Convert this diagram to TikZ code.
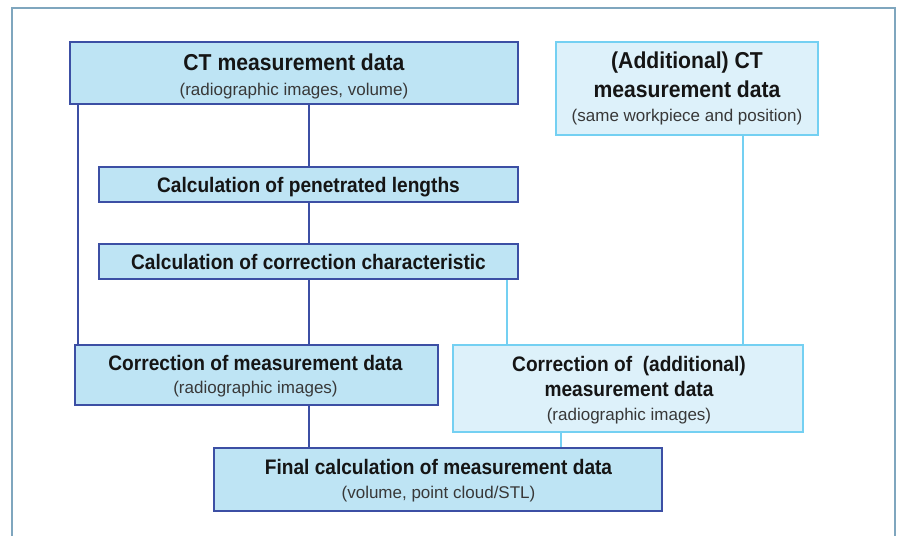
\documentclass[tikz,border=0pt]{standalone}
\usepackage{fontspec}
\usepackage{graphicx}
\setmainfont{Liberation Sans}
\usetikzlibrary{calc}
\definecolor{darkfill}{HTML}{BEE4F4}
\definecolor{darkedge}{HTML}{3C4FA4}
\definecolor{lightfill}{HTML}{DDF1FA}
\definecolor{lightedge}{HTML}{74D0F2}
\definecolor{frame}{HTML}{7FA6BE}
\definecolor{txt}{HTML}{151515}
\definecolor{subtxt}{HTML}{383838}
\newcommand{\bigx}[1]{\scalebox{0.92}[1]{#1}}
\newcommand{\midx}[1]{\scalebox{0.91}[1]{#1}}
\tikzset{
  darkbox/.style={draw=darkedge, fill=darkfill, line width=2.4pt, rectangle, inner sep=0pt},
  lightbox/.style={draw=lightedge, fill=lightfill, line width=2.4pt, rectangle, inner sep=0pt},
  darkline/.style={draw=darkedge, line width=2pt},
  lightline/.style={draw=lightedge, line width=2pt},
  bigtxt/.style={anchor=base, inner sep=0pt, text=txt, font=\fontsize{23}{27}\selectfont\bfseries},
  midtxt/.style={anchor=base, inner sep=0pt, text=txt, font=\fontsize{21}{25}\selectfont\bfseries},
  subtxt/.style={anchor=base, inner sep=0pt, text=subtxt, font=\fontsize{17}{20}\selectfont},
}
\begin{document}
\begin{tikzpicture}[x=1pt,y=-1pt]
\useasboundingbox (0,0) rectangle (898,536);
\fill[white] (0,0) rectangle (898,536);
\draw[frame, line width=1.8pt] (12,540) -- (12,8) -- (895,8) -- (895,540);

\node[darkbox, minimum width=448pt, minimum height=62pt] (A) at (294,73) {};
\node[lightbox, minimum width=262pt, minimum height=93pt] (B) at (687,88.5) {};
\node[darkbox, minimum width=419pt, minimum height=35pt] (C) at (308.5,184.5) {};
\node[darkbox, minimum width=419pt, minimum height=35pt] (D) at (308.5,261.5) {};
\node[darkbox, minimum width=363pt, minimum height=60pt] (E) at (256.5,375) {};
\node[lightbox, minimum width=350pt, minimum height=87pt] (F) at (628,388.5) {};
\node[darkbox, minimum width=448pt, minimum height=63pt] (G) at (438,479.5) {};

\draw[darkline] ([xshift=9pt]A.south west) -- ([xshift=9pt]A.south west |- E.north);
\draw[darkline] (C.north |- A.south) -- (C.north);
\draw[darkline] (C.south) -- (D.north);
\draw[darkline] (D.south) -- (D.south |- E.north);
\draw[darkline] (D.south |- E.south) -- (D.south |- G.north);
\draw[lightline] ([xshift=-12pt]D.south east) -- ([xshift=-12pt]D.south east |- F.north);
\draw[lightline] ([xshift=56pt]B.south) -- ([xshift=56pt]B.south |- F.north);
\draw[lightline] ([xshift=109pt]F.south west) -- ([xshift=109pt]F.south west |- G.north);

% texts
\node[bigtxt] (a1) at (294,70) {\bigx{CT measurement data}};
\node[subtxt] (a2) at (294,95) {(radiographic images, volume)};
\node[bigtxt] (b1) at (687,68) {\bigx{(Additional) CT}};
\node[bigtxt] (b2) at (687,97) {\bigx{measurement data}};
\node[subtxt] (b3) at (687,121) {(same workpiece and position)};
\node[midtxt] (c1) at (308.5,192) {\midx{Calculation of penetrated lengths}};
\node[midtxt] (d1) at (308.5,269) {\midx{Calculation of correction characteristic}};
\node[midtxt] (e1) at (255.5,370) {\midx{Correction of measurement data}};
\node[subtxt] (e2) at (255.5,393) {(radiographic images)};
\node[midtxt] (f1) at (629,371) {\midx{Correction of \ (additional)}};
\node[midtxt] (f2) at (629,396) {\midx{measurement data}};
\node[subtxt] (f3) at (629,420) {(radiographic images)};
\node[midtxt] (g1) at (438.5,474) {\midx{Final calculation of measurement data}};
\node[subtxt] (g2) at (438.5,498) {(volume, point cloud/STL)};
\end{tikzpicture}
\end{document}
